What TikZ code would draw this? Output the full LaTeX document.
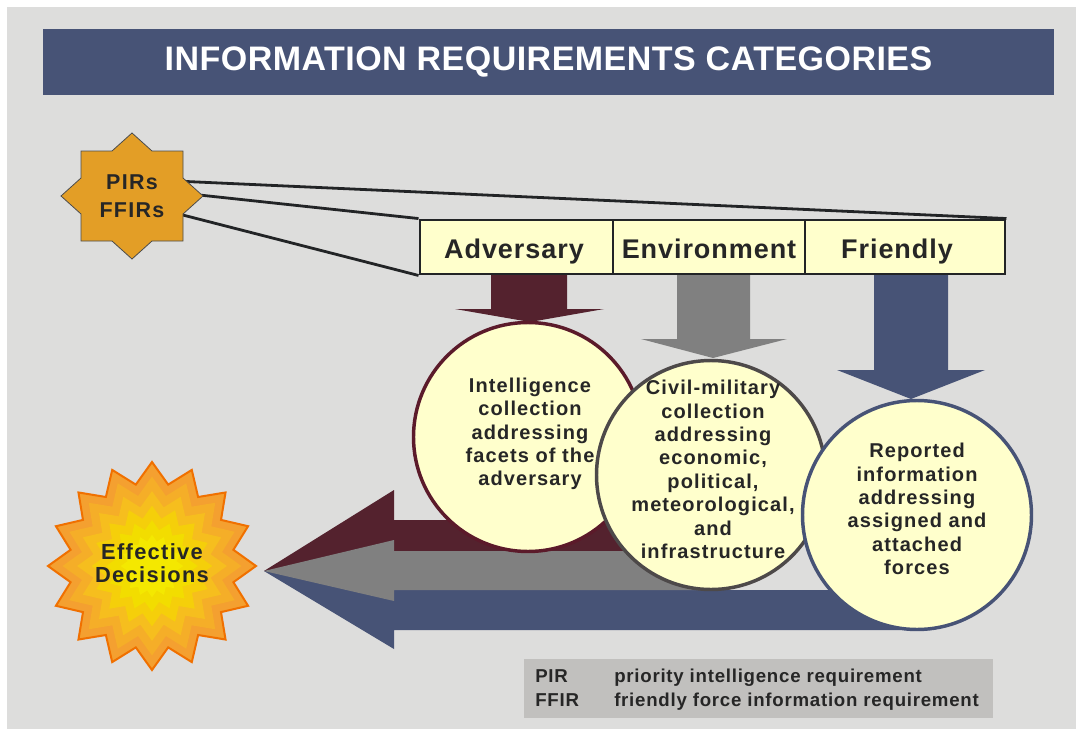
\documentclass[tikz,border=0pt]{standalone}
\usepackage{fontspec}
\setmainfont{Liberation Sans}
\newfontfamily\fTitle[LetterSpace=1.4]{Liberation Sans}
\newfontfamily\fBox[LetterSpace=3.5]{Liberation Sans}
\newfontfamily\fCirc[LetterSpace=5.5]{Liberation Sans}
\newfontfamily\fStar[LetterSpace=6]{Liberation Sans}
\newfontfamily\fLeg[LetterSpace=4]{Liberation Sans}
\definecolor{bg}{HTML}{DDDDDC}
\definecolor{navy}{HTML}{475376}
\definecolor{maroon}{HTML}{54222E}
\definecolor{midgray}{HTML}{808080}
\definecolor{cream}{HTML}{FFFFCC}
\definecolor{ink}{HTML}{262626}
\definecolor{gold}{HTML}{E39E26}
\definecolor{legbg}{HTML}{C1C0BE}
\definecolor{cAborder}{HTML}{5B1A2A}
\definecolor{cBborder}{HTML}{4D4949}
\definecolor{lineink}{HTML}{222426}
\definecolor{bzero}{HTML}{F07000}
\definecolor{bone}{HTML}{F4A030}
\definecolor{btwo}{HTML}{F5AE28}
\definecolor{bthree}{HTML}{F6BE1E}
\definecolor{bfour}{HTML}{F5CF0A}
\definecolor{bfive}{HTML}{F2DD00}
\definecolor{bsix}{HTML}{F4E800}
\begin{document}
\begin{tikzpicture}[x=0.75pt,y=-0.75pt,
  cell/.style={draw=lineink, line width=2.2pt, fill=cream, minimum height=40.5pt, inner sep=0pt},
  boxlab/.style={text=ink, anchor=base, inner sep=0pt, font={\fBox\bfseries\fontsize{20.25}{24}\selectfont}},
  circ/.style={circle, fill=cream, line width=2.6pt, minimum size=171.75pt, inner sep=0pt},
  ctext/.style={text=ink, align=center, inner sep=0pt, font={\fCirc\bfseries\fontsize{15}{17.55}\selectfont}},
  starline/.style={draw=lineink, line width=2.1pt},
  legtext/.style={text=ink, anchor=base west, inner sep=0pt, font={\fLeg\bfseries\fontsize{14}{16}\selectfont}}
]
\useasboundingbox (0,0) rectangle (1076,729);
\fill[white] (0,0) rectangle (1076,729);
\fill[bg] (7,7) rectangle (1076,729);

% title
\node[fill=navy, minimum width=758.25pt, minimum height=49.5pt, inner sep=0pt, text=white,
      font={\fTitle\bfseries\fontsize{25.5}{30}\selectfont}] (title) at (548.5,62) {INFORMATION REQUIREMENTS CATEGORIES};

% star-to-box lines (start points hidden under the star)
\coordinate (s1) at (175,181);
\coordinate (s2) at (190,194);
\coordinate (s3) at (175,213);

% box positions
\path (516.5,247) node[cell, minimum width=144.75pt, draw=none, fill=none] (adv) {};
\path (709,247) node[cell, minimum width=144pt, draw=none, fill=none] (env) {};
\path (905,247) node[cell, minimum width=150pt, draw=none, fill=none] (fri) {};

\draw[starline] (s1) -- (fri.north east);
\draw[starline] (s2) -- (adv.north west);
\draw[starline] (s3) -- (adv.south west);

% down arrows
\fill[maroon] (491,272) -- (567,272) -- (567,309) -- (604,309) -- (530,322) -- (455,309) -- (491,309) -- cycle;
\fill[midgray] (677,272) -- (750,272) -- (750,339) -- (787,339) -- (713,358) -- (641,339) -- (677,339) -- cycle;
\fill[navy] (874,272) -- (948,272) -- (948,370) -- (985,370) -- (911,399) -- (837,370) -- (874,370) -- cycle;

% boxes drawn
\node[cell, minimum width=144.75pt] (advbox) at (adv) {};
\node[cell, minimum width=144pt] (envbox) at (env) {};
\node[cell, minimum width=150pt] (fribox) at (fri) {};
\node[boxlab] (advl) at (514,258) {Adversary};
\node[boxlab] (envl) at (709,258) {Environment};
\node[boxlab] (fril) at (897,258) {Friendly};

% PIRs star
\filldraw[fill=gold, draw=black!70, line width=0.6pt]
  (81,151) -- (112,151) -- (132,133) -- (152,151) -- (183,151) -- (183,178) -- (203,196) -- (183,214)
  -- (183,241) -- (152,241) -- (132,259) -- (112,241) -- (81,241) -- (81,214) -- (61,196) -- (81,178) -- cycle;
\node[text=ink, align=center, inner sep=0pt, font={\fStar\bfseries\fontsize{16.1}{21}\selectfont}] (pirs) at (132,196) {PIRs\\FFIRs};

% horizontal arrows to Effective Decisions
\coordinate (tip) at (264,571);
\fill[maroon] (tip) -- (394,490) -- (394,520) -- (690,520) -- (690,551) -- (394,551) -- (394,600) -- cycle;
\fill[navy] (tip) -- (394,560) -- (394,590) -- (900,590) -- (900,630) -- (394,630) -- (394,649) -- cycle;
\fill[midgray] (tip) -- (394,540) -- (394,551) -- (712,551) -- (712,590) -- (394,590) -- (394,601) -- cycle;

% circles
\node[circ, draw=cAborder] (cA) at (528,437) {};
\node[ctext] (tA) at (530,434) {Intelligence\\collection\\addressing\\facets of the\\adversary};
\node[circ, draw=cBborder] (cB) at (711,475) {};
\node[ctext] (tB) at (713,469.5) {Civil-military\\collection\\addressing\\economic,\\political,\\meteorological,\\and\\infrastructure};
\node[circ, draw=navy] (cC) at (917,515) {};
\node[ctext] (tC) at (917,509) {Reported\\information\\addressing\\assigned and\\attached\\forces};

% Effective Decisions burst
\begin{scope}[shift={(152,566)}]
  \filldraw[fill=bone, draw=bzero, line width=1.5pt]
    plot[samples at={0,...,31}] ({\x*11.25}:{(mod(\x,2)==0 ? 104 : 83)}) -- cycle;
  \foreach \s/\c in {0.86/btwo,0.72/bthree,0.58/bfour,0.44/bfive,0.3/bsix}
    \fill[\c] plot[samples at={0,...,31}] ({\x*11.25}:{(mod(\x,2)==0 ? 104 : 83)*\s}) -- cycle;
\end{scope}
\node[text=ink, align=center, inner sep=0pt, font={\fStar\bfseries\fontsize{16.4}{17.5}\selectfont}] (eff) at (152,563) {Effective\\Decisions};

% legend
\node[fill=legbg, minimum width=351.75pt, minimum height=44.25pt, inner sep=0pt] (leg) at (758.5,688.5) {};
\node[legtext] (l1a) at (535,682) {PIR};
\node[legtext] (l1b) at (614,682) {priority intelligence requirement};
\node[legtext] (l2a) at (535,706) {FFIR};
\node[legtext] (l2b) at (614,706) {friendly force information requirement};
\end{tikzpicture}
\end{document}
